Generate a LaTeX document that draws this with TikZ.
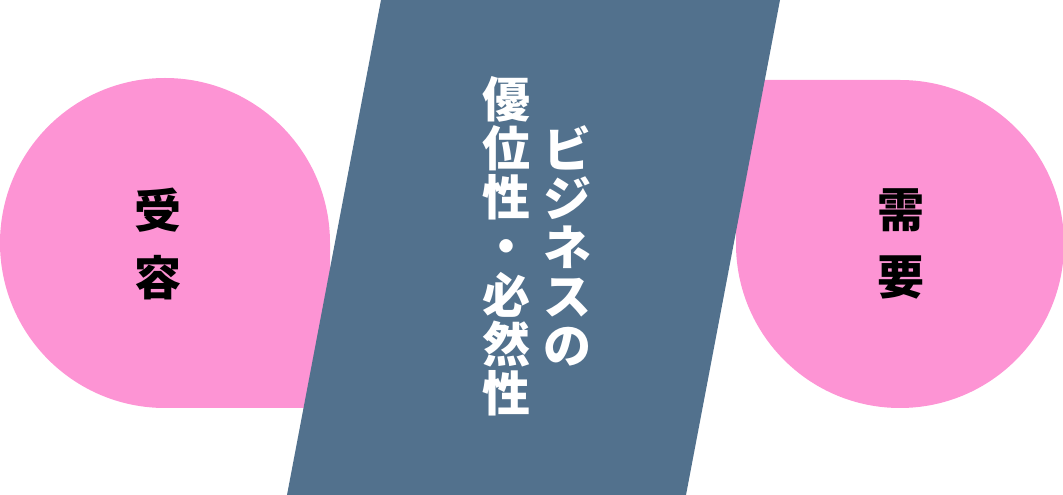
\documentclass[tikz,border=0pt]{standalone}
\usepackage{fontspec}
\usepackage{xcolor}
\usetikzlibrary{calc}
\usetikzlibrary{positioning}
\newfontfamily\jpfont{Noto Sans CJK JP}
\definecolor{custom-pink}{RGB}{253, 148, 212}
\definecolor{custom-blue}{RGB}{82, 113, 141}
\tikzset{
  pinktext/.style={font=\jpfont\bfseries\fontsize{47}{67}\selectfont, text=black, align=center, inner sep=0pt},
  bluetext/.style={font=\jpfont\bfseries\fontsize{48}{49}\selectfont, text=white, align=center, inner sep=0pt}
}
\begin{document}
\begin{tikzpicture}[x=1pt,y=1pt]
\useasboundingbox (0,0) rectangle (1063,495);
\fill[custom-pink] (330,87) -- (330,252) arc[start angle=0, end angle=270, radius=165] -- cycle;
\fill[custom-pink] (736,415) -- (900,415) arc[start angle=90, end angle=-180, radius=164] -- cycle;
\fill[custom-blue] (381,495) -- (780,495) -- (686,0) -- (287,0) -- cycle;
\node[pinktext] (accept) at (158,251) {受\\容};
\node[pinktext] (demand) at (901,251) {需\\要};
\node[bluetext] (biz) at (567,249) {ビ\\ジ\\ネ\\ス\\の};
\node[bluetext] (merit) at (506,249) {優\\位\\性\\・\\必\\然\\性};
\end{tikzpicture}
\end{document}
